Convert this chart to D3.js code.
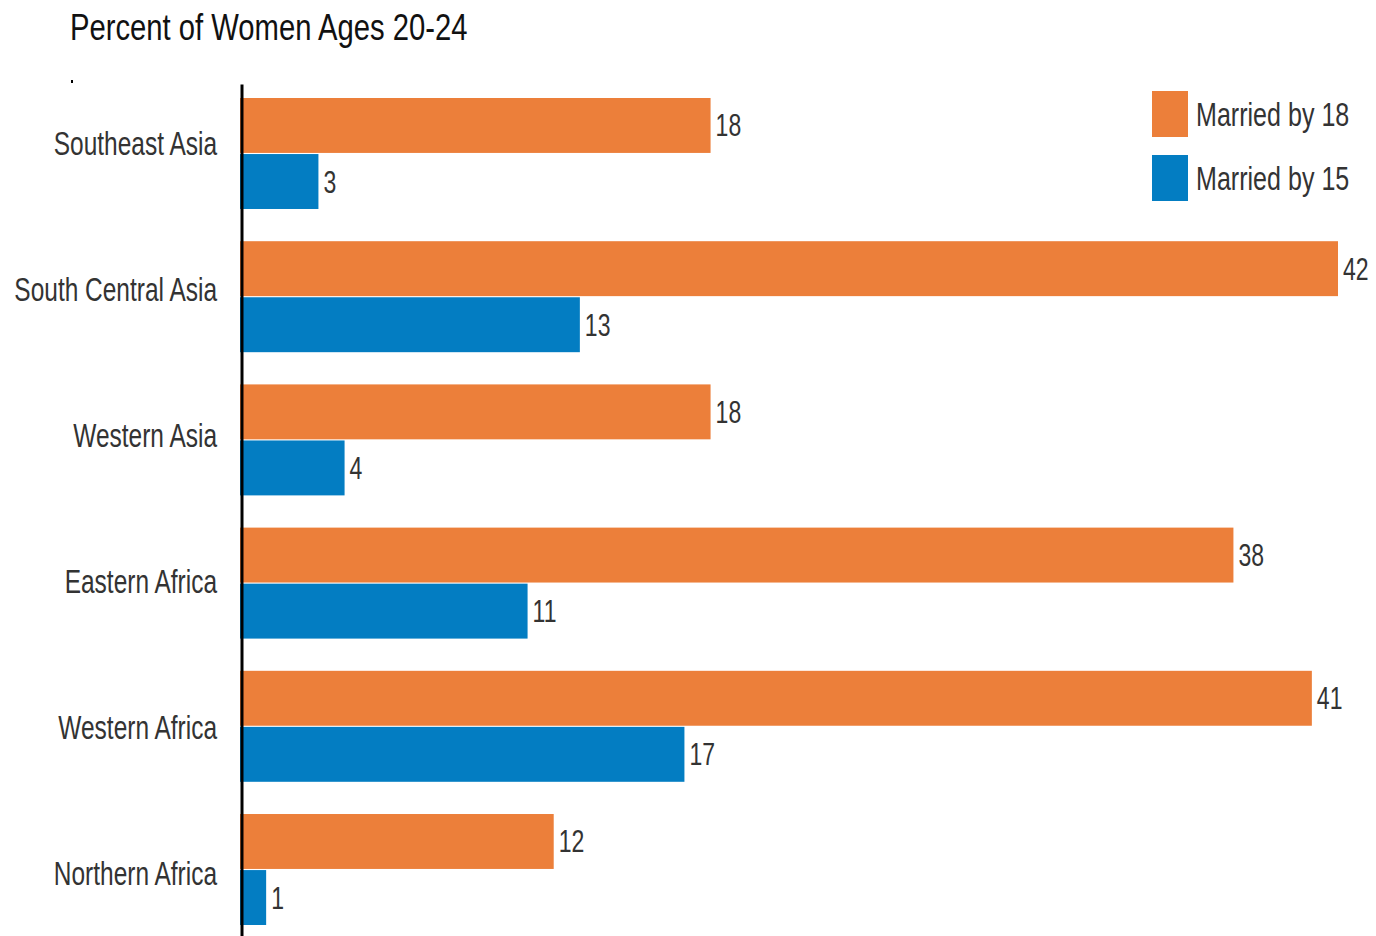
<!DOCTYPE html>
<html>
<head>
<meta charset="utf-8">
<script src="https://cdn.jsdelivr.net/npm/d3@7"></script>
<style>
  html, body { margin: 0; padding: 0; background: #fff; }
  svg { display: block; }
  text { font-family: "Liberation Sans", Arial, sans-serif; }
</style>
</head>
<body>
<svg id="chart" width="1376" height="936"></svg>
<script>
const title = "Percent of Women Ages 20-24";
const categories = ["Southeast Asia", "South Central Asia", "Western Asia", "Eastern Africa", "Western Africa", "Northern Africa"];
const seriesNames = ["Married by 18", "Married by 15"];
const marriedBy18 = [18, 42, 18, 38, 41, 12];
const marriedBy15 = [3, 13, 4, 11, 17, 1];
const colors = ["#EC7F3A", "#037DC2"];

const svg = d3.select("#chart");
const sx = 0.72;

const x = d3.scaleLinear().domain([0, d3.max(marriedBy18)]).range([240, 1338]);
const y = d3.scaleBand().domain(categories).range([98, 925]).paddingInner(0.225).paddingOuter(0);
const ys = d3.scaleBand().domain(seriesNames).range([0, y.bandwidth()]).paddingInner(0.02);
const yLabel = d3.scalePoint().domain(categories).range([155, 884.5]);

const rows = categories.map((c, i) => ({ cat: c, vals: [marriedBy18[i], marriedBy15[i]] }));

// title
svg.append("text")
  .attr("transform", "translate(70,40) scale(0.79,1)")
  .attr("font-size", 37)
  .attr("fill", "#111")
  .text(title);

// stray tick mark
svg.append("rect").attr("x", 71).attr("y", 80).attr("width", 2).attr("height", 3).attr("fill", "#000");

const g = svg.append("g");
const groups = g.selectAll("g.row").data(rows).join("g")
  .attr("class", "row")
  .attr("transform", d => `translate(0,${y(d.cat)})`);

groups.selectAll("rect").data(d => d.vals.map((v, j) => ({ v, s: seriesNames[j], j })))
  .join("rect")
  .attr("x", x(0))
  .attr("y", d => ys(d.s))
  .attr("width", d => x(d.v) - x(0))
  .attr("height", ys.bandwidth())
  .attr("fill", d => colors[d.j]);

groups.selectAll("text.val").data(d => d.vals.map((v, j) => ({ v, s: seriesNames[j], j })))
  .join("text")
  .attr("class", "val")
  .attr("transform", d => `translate(${x(d.v) + 5},${ys(d.s) + ys.bandwidth() / 2 + 11}) scale(${sx},1)`)
  .attr("font-size", 32)
  .attr("fill", "#333")
  .text(d => d.v);

// category labels
svg.append("g").selectAll("text").data(categories).join("text")
  .attr("transform", d => `translate(217,${yLabel(d)}) scale(${sx},1)`)
  .attr("text-anchor", "end")
  .attr("font-size", 34)
  .attr("fill", "#333")
  .text(d => d);

// axis line
svg.append("g")
  .attr("transform", "translate(241.5,0)")
  .call(d3.axisLeft(d3.scaleLinear().range([84, 936])).ticks(0).tickSizeOuter(0))
  .call(a => a.select(".domain").attr("stroke", "#000").attr("stroke-width", 3));

// legend
const legend = svg.append("g").attr("transform", "translate(1152,91)");
const li = legend.selectAll("g").data(seriesNames).join("g")
  .attr("transform", (d, i) => `translate(0,${i * 64})`);
li.append("rect").attr("width", 36).attr("height", 46).attr("fill", (d, i) => colors[i]);
li.append("text")
  .attr("transform", `translate(44,35) scale(0.76,1)`)
  .attr("font-size", 33)
  .attr("fill", "#333")
  .text(d => d);
</script>
</body>
</html>
